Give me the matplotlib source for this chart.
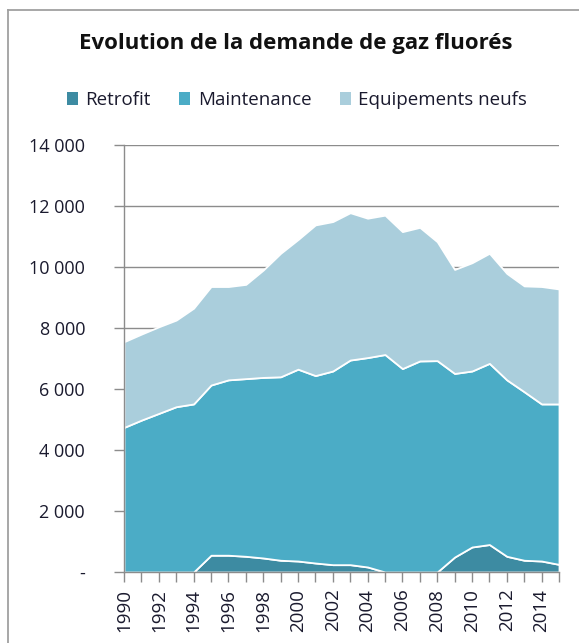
import matplotlib
matplotlib.use("Agg")
import matplotlib.pyplot as plt
from matplotlib.lines import Line2D
from matplotlib.patches import Patch
import numpy as np

years = list(range(1990, 2016))
retrofit = [0, 0, 0, 0, 0, 550, 550, 515, 460, 385, 360, 295, 240, 240, 165, 0,
            0, 0, 0, 490, 820, 900, 515, 385, 360, 250]
maint_top = [4740, 4980, 5200, 5420, 5510, 6130, 6300, 6340, 6380, 6400, 6650, 6440,
             6590, 6950, 7030, 7130, 6670, 6920, 6930, 6510, 6590, 6840, 6300, 5910,
             5510, 5510]
total = [7550, 7800, 8040, 8260, 8650, 9360, 9360, 9430, 9900, 10450, 10900, 11380,
         11490, 11780, 11600, 11700, 11160, 11300, 10830, 9920, 10140, 10450, 9790,
         9380, 9360, 9280]
maintenance = [m - r for m, r in zip(maint_top, retrofit)]
equipements = [t - m for t, m in zip(total, maint_top)]

series_names = ["Retrofit", "Maintenance", "Equipements neufs"]
colors = ["#3D8BA2", "#4BACC6", "#AACEDC"]
title = "Evolution de la demande de gaz fluorés"
yticks = [0, 2000, 4000, 6000, 8000, 10000, 12000, 14000]
ytick_labels = ["-", "2 000", "4 000", "6 000", "8 000", "10 000", "12 000", "14 000"]

plt.rcParams['font.family'] = ['Open Sans', 'DejaVu Sans']

W, H = 579, 643
fig = plt.figure(figsize=(W / 100, H / 100), dpi=100)
ax = fig.add_axes([124 / W, (H - 572) / H, (559 - 124) / W, (572 - 145) / H])

ax.stackplot(years, retrofit, maintenance, equipements, colors=colors,
             edgecolor="white", linewidth=1.3, zorder=2)

ax.set_xlim(years[0], years[-1])
ax.set_ylim(0, 14000)
ax.set_yticks(yticks)
ax.set_yticklabels(ytick_labels, fontsize=13, color="#1a1a2e")
ax.set_xticks(years)
ax.set_xticklabels([str(y) if (y - 1990) % 2 == 0 else "" for y in years],
                   rotation=90, fontsize=13.5, color="#1a1a2e")
ax.tick_params(axis="y", direction="out", length=7, width=1, color="#8c8c8c", pad=21)
ax.tick_params(axis="x", direction="out", length=7, width=1, color="#8c8c8c", pad=5)
ax.yaxis.grid(True, color="#8c8c8c", linewidth=1.0, zorder=0)
ax.set_axisbelow(True)
for s in ["top", "right"]:
    ax.spines[s].set_visible(False)
for s in ["left", "bottom"]:
    ax.spines[s].set_color("#8c8c8c")
    ax.spines[s].set_linewidth(1.0)
    ax.spines[s].set_zorder(3)

fig.text(295.5 / W, 1 - 44 / H, title, ha="center", va="center", fontsize=16,
         fontweight="bold", color="#111111")

handles = [Patch(facecolor=c, edgecolor="none") for c in colors]
fig.legend(handles, series_names, loc="center", bbox_to_anchor=(297 / W, 1 - 100 / H),
           ncol=3, frameon=False, fontsize=13.5, handlelength=0.6, handleheight=0.75,
           handletextpad=0.4, columnspacing=1.5, labelcolor="#1a1a2e",
           borderpad=0, borderaxespad=0)

fig.add_artist(Line2D([8 / W, 1], [1 - 10 / H, 1 - 10 / H], transform=fig.transFigure,
                      color="#a0a0a0", linewidth=1.3))
fig.add_artist(Line2D([8 / W, 8 / W], [0, 1 - 10 / H], transform=fig.transFigure,
                      color="#a0a0a0", linewidth=1.3))

fig.savefig("out.png", dpi=100, facecolor="white")
